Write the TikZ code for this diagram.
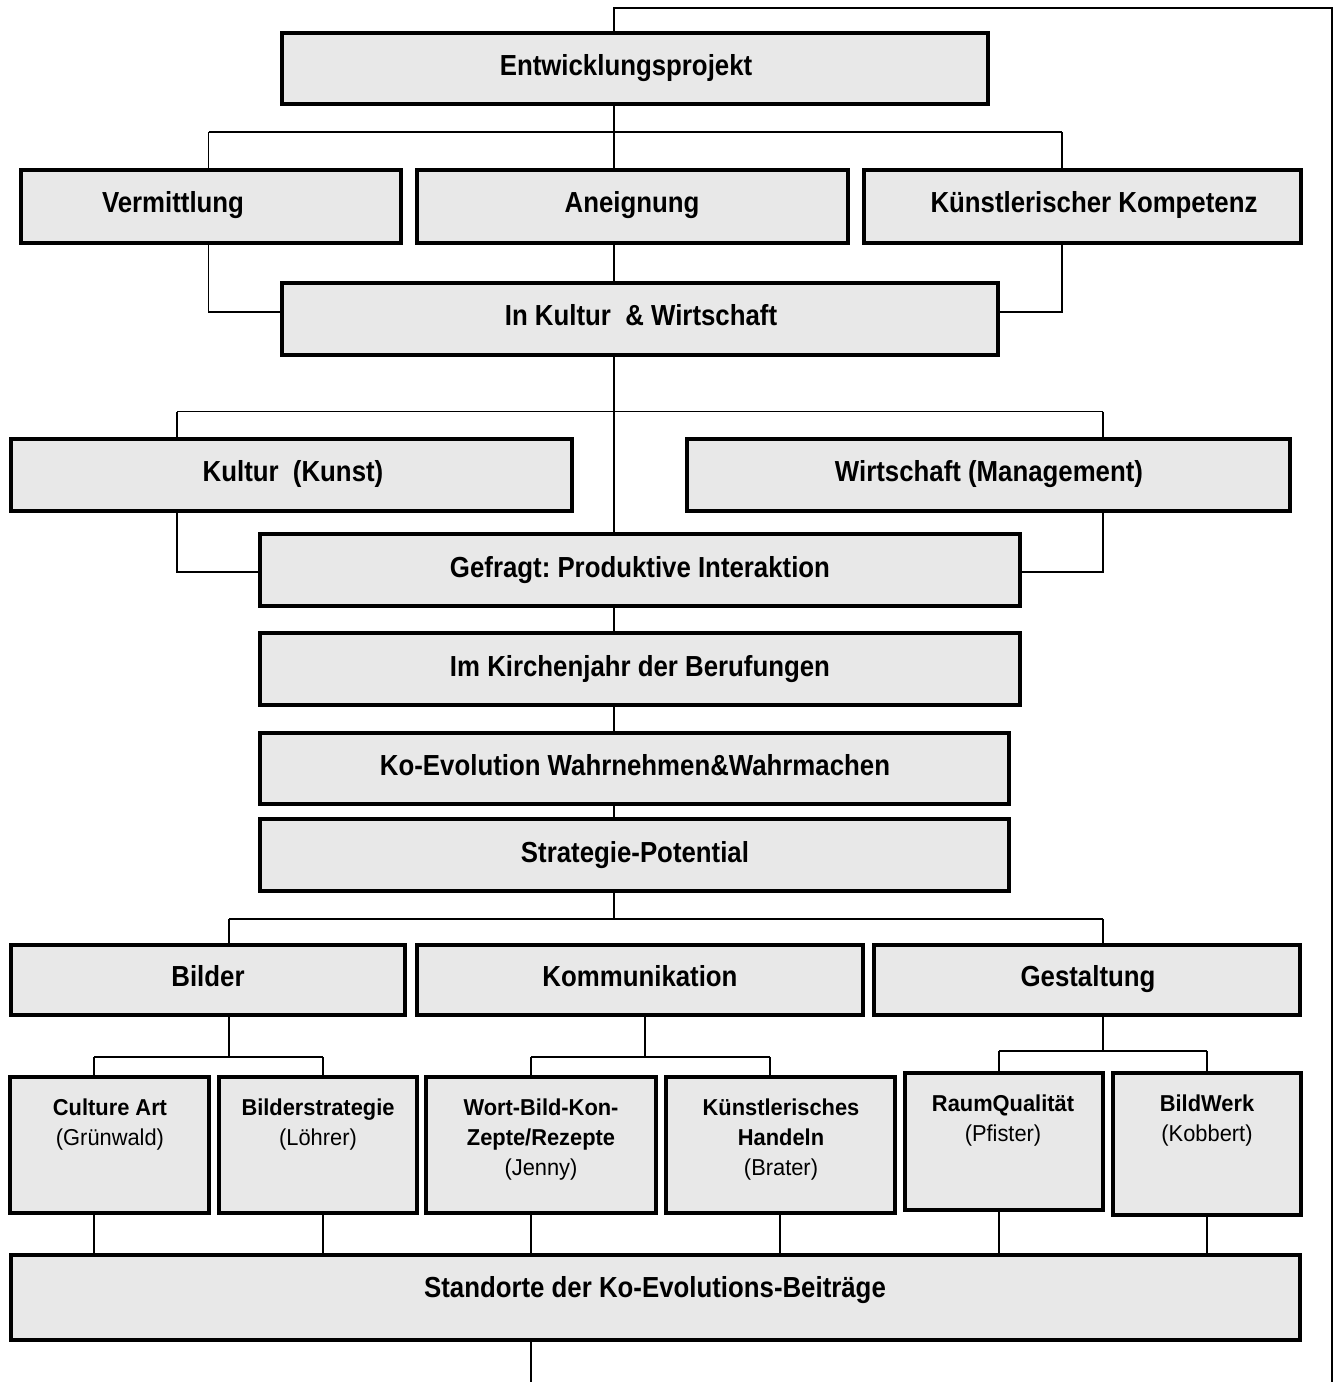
\documentclass[tikz,border=0pt]{standalone}
\usepackage{fontspec}
\setmainfont{Liberation Sans}
\newfontfamily\mainlbl{Liberation Sans}[FakeStretch=0.89]
\newfontfamily\smalllbl{Liberation Sans}[FakeStretch=0.95]
\usetikzlibrary{fit}
\definecolor{boxfill}{RGB}{232,232,232}
\frenchspacing
\tikzset{
  box/.style={draw=black, line width=2.2pt, fill=boxfill, inner sep=0pt, outer sep=0pt},
  conn/.style={draw=black, line width=0.7pt},
  mainlabel/.style={anchor=base, inner sep=0pt, font=\mainlbl\bfseries\fontsize{14.5}{17}\selectfont},
  sublabel/.style={anchor=base, inner sep=0pt, font=\smalllbl\fontsize{11.5}{15}\selectfont},
}
\begin{document}
\begin{tikzpicture}[x=0.5pt, y=-0.5pt]
\useasboundingbox (0,0) rectangle (1340,1382);

% ---------- boxes ----------
\node[box, fit={(282,33)(988,104)}]    (e)  {};
\node[box, fit={(21,170)(401,243)}]    (v)  {};
\node[box, fit={(417,170)(848,243)}]   (an) {};
\node[box, fit={(864,170)(1301,243)}]  (kp) {};
\node[box, fit={(282,283)(998,355)}]   (ik) {};
\node[box, fit={(11,439)(572,511)}]    (ku) {};
\node[box, fit={(687,439)(1290,511)}]  (wi) {};
\node[box, fit={(260,534)(1020,606)}]  (gf) {};
\node[box, fit={(260,633)(1020,705)}]  (kj) {};
\node[box, fit={(260,733)(1009,804)}]  (ko) {};
\node[box, fit={(260,819)(1009,891)}]  (sp) {};
\node[box, fit={(11,945)(405,1015)}]   (bi) {};
\node[box, fit={(417,945)(863,1015)}]  (km) {};
\node[box, fit={(874,945)(1300,1015)}] (ge) {};
\node[box, fit={(10,1077)(209,1213)}]  (ca) {};
\node[box, fit={(219,1077)(417,1213)}] (bs) {};
\node[box, fit={(426,1077)(656,1213)}] (wb) {};
\node[box, fit={(666,1077)(895,1213)}] (kh) {};
\node[box, fit={(905,1073)(1103,1210)}] (rq) {};
\node[box, fit={(1113,1073)(1301,1215)}] (bw) {};
\node[box, fit={(11,1255)(1300,1340)}] (sd) {};

% ---------- main labels ----------
\node[mainlabel] (te)  at (626,75)   {Entwicklungsprojekt};
\node[mainlabel] (tv)  at (173,212)  {Vermittlung};
\node[mainlabel] (tan) at (632,212)  {Aneignung};
\node[mainlabel] (tkp) at (1094,212) {Künstlerischer Kompetenz};
\node[mainlabel] (tik) at (641,325)  {In Kultur\ \ \& Wirtschaft};
\node[mainlabel] (tku) at (293,481)  {Kultur\ \ (Kunst)};
\node[mainlabel] (twi) at (989,481)  {Wirtschaft (Management)};
\node[mainlabel] (tgf) at (640,577)  {Gefragt: Produktive Interaktion};
\node[mainlabel] (tkj) at (640,676)  {Im Kirchenjahr der Berufungen};
\node[mainlabel] (tko) at (635,775)  {Ko-Evolution Wahrnehmen\&Wahrmachen};
\node[mainlabel] (tsp) at (635,862)  {Strategie-Potential};
\node[mainlabel] (tbi) at (208,986)  {Bilder};
\node[mainlabel] (tkm) at (640,986)  {Kommunikation};
\node[mainlabel] (tge) at (1088,986) {Gestaltung};
\node[mainlabel] (tsd) at (655,1297) {Standorte der Ko-Evolutions-Beiträge};

% ---------- sub labels ----------
\node[sublabel] (tca) at (110,1115)  {\begin{tabular}[t]{@{}c@{}}\bfseries Culture Art\\(Grünwald)\end{tabular}};
\node[sublabel] (tbs) at (318,1115)  {\begin{tabular}[t]{@{}c@{}}\bfseries Bilderstrategie\\(Löhrer)\end{tabular}};
\node[sublabel] (twb) at (541,1115)  {\begin{tabular}[t]{@{}c@{}}\bfseries Wort-Bild-Kon-\\\bfseries Zepte/Rezepte\\(Jenny)\end{tabular}};
\node[sublabel] (tkh) at (781,1115)  {\begin{tabular}[t]{@{}c@{}}\bfseries Künstlerisches\\\bfseries Handeln\\(Brater)\end{tabular}};
\node[sublabel] (trq) at (1003,1111) {\begin{tabular}[t]{@{}c@{}}\bfseries RaumQualität\\(Pfister)\end{tabular}};
\node[sublabel] (tbw) at (1207,1111) {\begin{tabular}[t]{@{}c@{}}\bfseries BildWerk\\(Kobbert)\end{tabular}};

% ---------- helper coordinates ----------
\coordinate (spine) at (614,0);
\coordinate (loopTL) at (614,8);
\coordinate (loopTR) at (1332,8);
\coordinate (loopBR) at (1332,1382);
\coordinate (loopBL) at (531,1382);
\coordinate (b1L) at (208.5,132);
\coordinate (b1R) at (1062,132);
\coordinate (j1L) at (208.5,312);
\coordinate (j1R) at (1062,312);
\coordinate (b2L) at (177,411.5);
\coordinate (b2R) at (1103,411.5);
\coordinate (j2L) at (177,572);
\coordinate (j2R) at (1103,572);
\coordinate (b3L) at (229,919);
\coordinate (b3R) at (1103,919);
\coordinate (b4C) at (229,1057);
\coordinate (b4L) at (94,1057);
\coordinate (b4R) at (323,1057);
\coordinate (b5C) at (645,1057);
\coordinate (b5L) at (531,1057);
\coordinate (b5R) at (770,1057);
\coordinate (b6C) at (1103,1051);
\coordinate (b6L) at (999,1051);
\coordinate (b6R) at (1207,1051);
\coordinate (khx) at (780,0);

% ---------- connectors ----------
\draw[conn] (loopBR) -- (loopTR) -- (loopTL) -- (e.north -| spine);
\draw[conn] (sd.south -| loopBL) -- (loopBL);

\draw[conn] (e.south -| spine) -- (an.north -| spine);
\draw[conn] (b1L) -- (b1R);
\draw[conn] (b1L) -- (v.north -| b1L);
\draw[conn] (b1R) -- (kp.north -| b1R);
\draw[conn] (v.south -| j1L) -- (j1L) -- (ik.west |- j1L);
\draw[conn] (kp.south -| j1R) -- (j1R) -- (ik.east |- j1R);
\draw[conn] (an.south -| spine) -- (ik.north -| spine);

\draw[conn] (ik.south -| spine) -- (gf.north -| spine);
\draw[conn] (b2L) -- (b2R);
\draw[conn] (b2L) -- (ku.north -| b2L);
\draw[conn] (b2R) -- (wi.north -| b2R);
\draw[conn] (ku.south -| j2L) -- (j2L) -- (gf.west |- j2L);
\draw[conn] (wi.south -| j2R) -- (j2R) -- (gf.east |- j2R);

\draw[conn] (gf.south -| spine) -- (kj.north -| spine);
\draw[conn] (kj.south -| spine) -- (ko.north -| spine);
\draw[conn] (ko.south -| spine) -- (sp.north -| spine);
\draw[conn] (sp.south -| spine) -- (spine |- b3L);
\draw[conn] (b3L) -- (b3R);
\draw[conn] (b3L) -- (bi.north -| b3L);
\draw[conn] (b3R) -- (ge.north -| b3R);

\draw[conn] (bi.south -| b4C) -- (b4C);
\draw[conn] (b4L) -- (b4R);
\draw[conn] (b4L) -- (ca.north -| b4L);
\draw[conn] (b4R) -- (bs.north -| b4R);

\draw[conn] (km.south -| b5C) -- (b5C);
\draw[conn] (b5L) -- (b5R);
\draw[conn] (b5L) -- (wb.north -| b5L);
\draw[conn] (b5R) -- (kh.north -| b5R);

\draw[conn] (ge.south -| b6C) -- (b6C);
\draw[conn] (b6L) -- (b6R);
\draw[conn] (b6L) -- (rq.north -| b6L);
\draw[conn] (b6R) -- (bw.north -| b6R);

\draw[conn] (ca.south -| b4L) -- (sd.north -| b4L);
\draw[conn] (bs.south -| b4R) -- (sd.north -| b4R);
\draw[conn] (wb.south -| b5L) -- (sd.north -| b5L);
\draw[conn] (kh.south -| khx) -- (sd.north -| khx);
\draw[conn] (rq.south -| b6L) -- (sd.north -| b6L);
\draw[conn] (bw.south -| b6R) -- (sd.north -| b6R);
\end{tikzpicture}
\end{document}
